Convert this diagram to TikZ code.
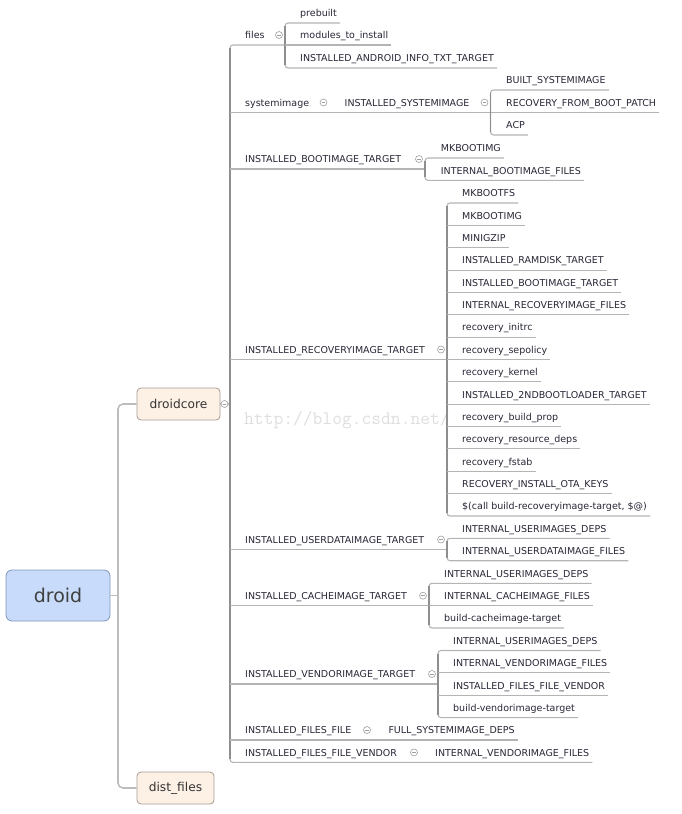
\documentclass[tikz,border=0pt]{standalone}
\usepackage{fontspec}
\setmainfont{DejaVu Sans}
\definecolor{ink}{HTML}{262636}
\definecolor{linegray}{HTML}{B4B4B4}
\definecolor{stemgray}{HTML}{8E8E8E}
\definecolor{trunkgray}{HTML}{BDBDBD}
\definecolor{rootfill}{HTML}{C8DBFA}
\definecolor{rootdraw}{HTML}{7F95BB}
\definecolor{mainfill}{HTML}{FDF1E6}
\definecolor{maindraw}{HTML}{A89C90}
\tikzstyle{root} = [rectangle, rounded corners=6pt, minimum width=104pt, minimum height=51pt, draw=rootdraw, fill=rootfill, line width=0.8pt, text=black!75, font=\fontsize{19}{22}\selectfont]
\tikzstyle{main} = [rectangle, rounded corners=4pt, minimum height=32pt, draw=maindraw, fill=mainfill, line width=0.8pt, text=black!80, font=\fontsize{12.2}{14}\selectfont]
\tikzstyle{leaf} = [anchor=south west, inner xsep=3pt, inner ysep=4pt, text height=7pt, text depth=2pt, text=ink, font=\fontsize{9.5}{11}\selectfont]
\tikzstyle{fold} = [circle, draw=gray!75, fill=white, line width=0.6pt, minimum size=7pt, inner sep=0pt, path picture={\draw[gray!75, line width=0.6pt] ([xshift=-1.8pt]path picture bounding box.center) -- ([xshift=1.8pt]path picture bounding box.center);}]
\tikzstyle{twig} = [draw=linegray, line width=1.1pt, rounded corners=3pt]
\tikzstyle{stem} = [draw=stemgray, line width=1.6pt, shorten <=3pt, shorten >=3pt]
\tikzstyle{trunk} = [draw=trunkgray, line width=1.6pt, rounded corners=5pt]
\tikzstyle{watermark} = [anchor=base west, inner sep=0pt, text=black!13, font=\ttfamily\fontsize{19}{21}\selectfont]

\begin{document}
\begin{tikzpicture}[x=1pt, y=-1pt]
    \useasboundingbox (0,0) rectangle (681,814);

    % Nodes
    \node (blog) [watermark] at (244,424) {http://blog.csdn.net/};
    \node (droid) [root] at (58,595.5) {droid};
    \node (droidcore) [main, minimum width=83pt] at (178.5,404) {droidcore};
    \node (distfiles) [main, minimum width=77pt] at (175.5,788) {dist\_files};

    \node (files) [leaf] at (242,45) {files};
    \node (sysimg) [leaf] at (242,112.5) {systemimage};
    \node (bootimg) [leaf] at (242,169) {INSTALLED\_BOOTIMAGE\_TARGET};
    \node (recimg) [leaf] at (242,359.5) {INSTALLED\_RECOVERYIMAGE\_TARGET};
    \node (userimg) [leaf] at (242,549.5) {INSTALLED\_USERDATAIMAGE\_TARGET};
    \node (cacheimg) [leaf] at (242,605.7) {INSTALLED\_CACHEIMAGE\_TARGET};
    \node (vendorimg) [leaf] at (242,684) {INSTALLED\_VENDORIMAGE\_TARGET};
    \node (filesfile) [leaf] at (242,740) {INSTALLED\_FILES\_FILE};
    \node (vendorfile) [leaf] at (242,762.4) {INSTALLED\_FILES\_FILE\_VENDOR};

    \node (prebuilt) [leaf] at (297,23) {prebuilt};
    \node (modules) [leaf] at (297,45) {modules\_to\_install};
    \node (infotxt) [leaf] at (297,68) {INSTALLED\_ANDROID\_INFO\_TXT\_TARGET};

    \node (instsys) [leaf] at (341.5,112.5) {INSTALLED\_SYSTEMIMAGE};
    \node (builtsys) [leaf] at (503,90) {BUILT\_SYSTEMIMAGE};
    \node (recpatch) [leaf] at (503,112.5) {RECOVERY\_FROM\_BOOT\_PATCH};
    \node (acp) [leaf] at (503,135) {ACP};

    \node (bootmk) [leaf] at (437.7,158) {MKBOOTIMG};
    \node (bootint) [leaf] at (437.7,180.4) {INTERNAL\_BOOTIMAGE\_FILES};

    \node (mkbootfs) [leaf] at (459,203) {MKBOOTFS};
    \node (recmk) [leaf] at (459,225.4) {MKBOOTIMG};
    \node (minigzip) [leaf] at (459,247.7) {MINIGZIP};
    \node (ramdisk) [leaf] at (459,270.1) {INSTALLED\_RAMDISK\_TARGET};
    \node (recboot) [leaf] at (459,292.4) {INSTALLED\_BOOTIMAGE\_TARGET};
    \node (recfiles) [leaf] at (459,314.8) {INTERNAL\_RECOVERYIMAGE\_FILES};
    \node (initrc) [leaf] at (459,337.1) {recovery\_initrc};
    \node (sepolicy) [leaf] at (459,359.5) {recovery\_sepolicy};
    \node (kernel) [leaf] at (459,381.9) {recovery\_kernel};
    \node (loader) [leaf] at (459,404.2) {INSTALLED\_2NDBOOTLOADER\_TARGET};
    \node (buildprop) [leaf] at (459,426.6) {recovery\_build\_prop};
    \node (resdeps) [leaf] at (459,448.9) {recovery\_resource\_deps};
    \node (fstab) [leaf] at (459,471.3) {recovery\_fstab};
    \node (otakeys) [leaf] at (459,493.7) {RECOVERY\_INSTALL\_OTA\_KEYS};
    \node (recbuild) [leaf] at (459,516) {\$(call build-recoveryimage-target, \$@)};

    \node (userdeps) [leaf] at (459,538.3) {INTERNAL\_USERIMAGES\_DEPS};
    \node (userfiles) [leaf] at (459,560.7) {INTERNAL\_USERDATAIMAGE\_FILES};

    \node (cachedeps) [leaf] at (441,583.3) {INTERNAL\_USERIMAGES\_DEPS};
    \node (cachefiles) [leaf] at (441,605.7) {INTERNAL\_CACHEIMAGE\_FILES};
    \node (cachebuild) [leaf] at (441,628) {build-cacheimage-target};

    \node (vendordeps) [leaf] at (450,650.5) {INTERNAL\_USERIMAGES\_DEPS};
    \node (vendorfiles) [leaf] at (450,672.9) {INTERNAL\_VENDORIMAGE\_FILES};
    \node (vendorlist) [leaf] at (450,695.3) {INSTALLED\_FILES\_FILE\_VENDOR};
    \node (vendorbuild) [leaf] at (450,717.6) {build-vendorimage-target};

    \node (fulldeps) [leaf] at (385.3,740) {FULL\_SYSTEMIMAGE\_DEPS};
    \node (vendorint) [leaf] at (432,762.4) {INTERNAL\_VENDORIMAGE\_FILES};

    % Joints
    \coordinate (dj) at (118,595.5);
    \coordinate (spine) at (230,404);
    \coordinate (filesbr) at (285,45);
    \coordinate (instbr) at (490.5,112.5);
    \coordinate (bootbr) at (425,169);
    \coordinate (recbr) at (447,359.5);
    \coordinate (userbr) at (447,549.5);
    \coordinate (cachebr) at (429,605.7);
    \coordinate (vendorbr) at (438,684);

    % Trunk
    \draw [trunk] (droid.east) -- (dj);
    \draw [trunk] (droidcore.west) -| (dj) |- (distfiles.west);

    % Spine
    \draw [twig] (droidcore.east) -- (droidcore.east -| spine);
    \draw [twig] (filesbr) -| (spine) |- (vendorint.south east);
    \draw [stem] (files.south west -| spine) -- (vendorfile.south west -| spine);
    \draw [twig] (sysimg.south west -| spine) -- (instbr);
    \draw [twig] (bootimg.south west -| spine) -- (bootbr);
    \draw [twig] (recimg.south west -| spine) -- (recbr);
    \draw [twig] (userimg.south west -| spine) -- (userbr);
    \draw [twig] (cacheimg.south west -| spine) -- (cachebr);
    \draw [twig] (vendorimg.south west -| spine) -- (vendorbr);
    \draw [twig] (filesfile.south west -| spine) -- (fulldeps.south east);

    % files
    \draw [twig] (prebuilt.south east) -| (filesbr) |- (infotxt.south east);
    \draw [stem] (prebuilt.south east -| filesbr) -- (infotxt.south east -| filesbr);
    \draw [twig] (modules.south east) -- (filesbr);

    % systemimage
    \draw [twig] (builtsys.south east) -| (instbr) |- (acp.south east);
    \draw [stem] (builtsys.south east -| instbr) -- (acp.south east -| instbr);
    \draw [twig] (recpatch.south east) -- (instbr);

    % bootimage
    \draw [twig] (bootmk.south east) -| (bootbr) |- (bootint.south east);
    \draw [stem] (bootmk.south east -| bootbr) -- (bootint.south east -| bootbr);

    % recoveryimage
    \draw [twig] (mkbootfs.south east) -| (recbr) |- (recbuild.south east);
    \draw [stem] (mkbootfs.south east -| recbr) -- (recbuild.south east -| recbr);
    \draw [twig] (recmk.south east) -- (recmk.south east -| recbr);
    \draw [twig] (minigzip.south east) -- (minigzip.south east -| recbr);
    \draw [twig] (ramdisk.south east) -- (ramdisk.south east -| recbr);
    \draw [twig] (recboot.south east) -- (recboot.south east -| recbr);
    \draw [twig] (recfiles.south east) -- (recfiles.south east -| recbr);
    \draw [twig] (initrc.south east) -- (initrc.south east -| recbr);
    \draw [twig] (sepolicy.south east) -- (recbr);
    \draw [twig] (kernel.south east) -- (kernel.south east -| recbr);
    \draw [twig] (loader.south east) -- (loader.south east -| recbr);
    \draw [twig] (buildprop.south east) -- (buildprop.south east -| recbr);
    \draw [twig] (resdeps.south east) -- (resdeps.south east -| recbr);
    \draw [twig] (fstab.south east) -- (fstab.south east -| recbr);
    \draw [twig] (otakeys.south east) -- (otakeys.south east -| recbr);

    % userdata, cache, vendor
    \draw [twig] (userdeps.south east) -| (userbr) |- (userfiles.south east);
    \draw [stem] (userdeps.south east -| userbr) -- (userfiles.south east -| userbr);
    \draw [twig] (cachedeps.south east) -| (cachebr) |- (cachebuild.south east);
    \draw [stem] (cachedeps.south east -| cachebr) -- (cachebuild.south east -| cachebr);
    \draw [twig] (cachefiles.south east) -- (cachebr);
    \draw [twig] (vendordeps.south east) -| (vendorbr) |- (vendorbuild.south east);
    \draw [stem] (vendordeps.south east -| vendorbr) -- (vendorbuild.south east -| vendorbr);
    \draw [twig] (vendorfiles.south east) -- (vendorfiles.south east -| vendorbr);
    \draw [twig] (vendorlist.south east) -- (vendorlist.south east -| vendorbr);

    % Folds
    \node (corefold) [fold] at (224.5,404) {};
    \node (filesfold) [fold] at (279,35) {};
    \node (sysfold) [fold] at (323.5,102.5) {};
    \node (instfold) [fold] at (484.5,102.5) {};
    \node (bootfold) [fold] at (419,159) {};
    \node (recfold) [fold] at (441,349.5) {};
    \node (userfold) [fold] at (441,539.5) {};
    \node (cachefold) [fold] at (423,595.7) {};
    \node (vendorfold) [fold] at (432,674) {};
    \node (fffold) [fold] at (367,730) {};
    \node (vffold) [fold] at (414,752.4) {};

\end{tikzpicture}
\end{document}
